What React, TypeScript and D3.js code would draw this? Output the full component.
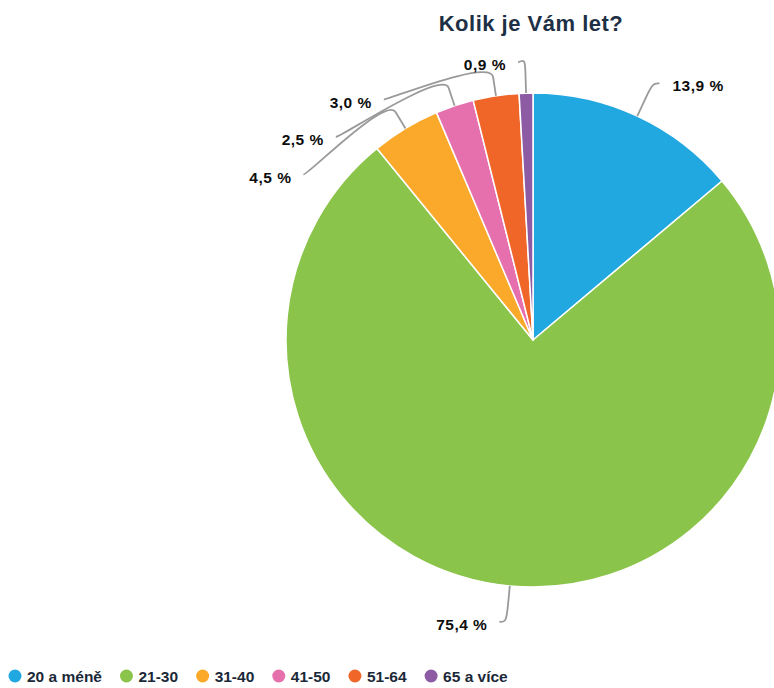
import React, { useEffect, useRef } from "react";
import * as d3 from "d3";

const title = "Kolik je Vám let?";
const categories = ["20 a méně", "21-30", "31-40", "41-50", "51-64", "65 a více"];
const values = [13.9, 75.4, 4.5, 2.5, 3.0, 0.9];
const colors = ["#22a8e0", "#8bc44a", "#faa92a", "#e66fae", "#ef6628", "#8c5ba4"];

const W = 774;
const H = 688;
const CX = 533;
const CY = 340;
const R = 247;
const LABEL_R = 283;
const BREAK_R = 266;
const MIN_LABEL_Y = 62;
const SLOT = 37.5;

const fmt = (v: number) => v.toFixed(1).replace(".", ",") + " %";

export default function App() {
  const ref = useRef<SVGSVGElement | null>(null);

  useEffect(() => {
    const svg = d3.select(ref.current);
    svg.selectAll("*").remove();

    // Title
    svg
      .append("text")
      .attr("x", 531)
      .attr("y", 31)
      .attr("text-anchor", "middle")
      .attr("font-family", "'Liberation Sans', Arial, sans-serif")
      .attr("font-weight", "bold")
      .attr("font-size", 22)
      .attr("letter-spacing", 0.5)
      .attr("fill", "#1e3045")
      .text(title);

    const pie = d3.pie<number>().sort(null).value((d) => d);
    const arcs = pie(values);
    const arc = d3.arc<d3.PieArcDatum<number>>().innerRadius(0).outerRadius(R);

    const g = svg.append("g").attr("transform", `translate(${CX},${CY})`);
    g.selectAll("path")
      .data(arcs)
      .enter()
      .append("path")
      .attr("d", arc as any)
      .attr("fill", (_d, i) => colors[i])
      .attr("stroke", "#ffffff")
      .attr("stroke-width", 1.5)
      .attr("stroke-linejoin", "round");

    // Labels layout
    type L = {
      i: number;
      mid: number;
      left: boolean;
      nx: number;
      ny: number;
      x: number;
      y: number;
    };
    const labels: L[] = arcs.map((a, i) => {
      const mid = (a.startAngle + a.endAngle) / 2;
      const nx = CX + LABEL_R * Math.sin(mid);
      const ny = CY - LABEL_R * Math.cos(mid);
      return { i, mid, left: Math.sin(mid) < 0, nx, ny, x: nx, y: ny };
    });
    [true, false].forEach((side) => {
      const group = labels.filter((l) => l.left === side).sort((a, b) => a.ny - b.ny);
      let prev = -Infinity;
      group.forEach((l) => {
        const y = Math.max(l.ny, prev + SLOT, MIN_LABEL_Y);
        l.y = y;
        prev = y;
        const displaced = y - l.ny > 10;
        const s = l.left ? -1 : 1;
        if (displaced) {
          const dy = y - CY;
          l.x = CX + s * Math.sqrt(Math.max(LABEL_R * LABEL_R - dy * dy, 0));
        } else {
          l.x = l.nx + s * 7;
        }
      });
    });

    const lg = svg.append("g");
    labels.forEach((l) => {
      const tx = CX + R * Math.sin(l.mid);
      const ty = CY - R * Math.cos(l.mid);
      const bx = CX + BREAK_R * Math.sin(l.mid);
      const by = CY - BREAK_R * Math.cos(l.mid);
      const p = d3.path();
      p.moveTo(l.x, l.y);
      p.bezierCurveTo(l.x + (l.left ? 5 : -5), l.y, 2 * bx - tx, 2 * by - ty, bx, by);
      p.lineTo(tx, ty);
      lg.append("path")
        .attr("d", p.toString())
        .attr("fill", "none")
        .attr("stroke", "#9a9a9a")
        .attr("stroke-width", 1.8);
      lg.append("text")
        .attr("x", l.left ? l.x - 12 : l.x + 13)
        .attr("y", l.y + 2.5)
        .attr("dominant-baseline", "central")
        .attr("text-anchor", l.left ? "end" : "start")
        .attr("font-family", "'Liberation Sans', Arial, sans-serif")
        .attr("font-weight", "bold")
        .attr("font-size", 15.5)
        .attr("letter-spacing", 0.5)
        .attr("fill", "#0d0d0d")
        .text(fmt(values[l.i]));
    });

    // Legend
    const legend = svg.append("g");
    let x = 15;
    const ly = 676;
    categories.forEach((c, i) => {
      legend
        .append("circle")
        .attr("cx", x)
        .attr("cy", ly)
        .attr("r", 6.5)
        .attr("fill", colors[i]);
      const t = legend
        .append("text")
        .attr("x", x + 12)
        .attr("y", ly + 0.5)
        .attr("dominant-baseline", "central")
        .attr("font-family", "'Liberation Sans', Arial, sans-serif")
        .attr("font-weight", "bold")
        .attr("font-size", 15.5)
        .attr("fill", "#1a2838")
        .text(c);
      const w = (t.node() as SVGTextElement).getComputedTextLength();
      x = x + 12 + w + 24.5;
    });
  }, []);

  return (
    <svg
      ref={ref}
      width={W}
      height={H}
      style={{ position: "absolute", left: 0, top: 0, background: "#fff" }}
    />
  );
}
